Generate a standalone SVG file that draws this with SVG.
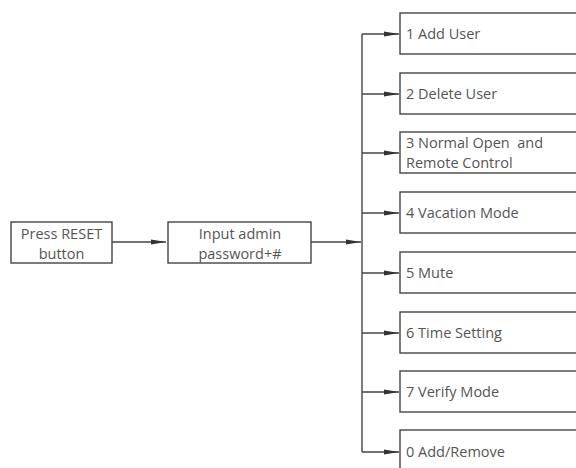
<svg xmlns="http://www.w3.org/2000/svg" width="576" height="468" viewBox="0 0 576 468">
<defs>
<marker id="ah" markerWidth="15" markerHeight="6" refX="15" refY="3" orient="auto" markerUnits="userSpaceOnUse">
<path d="M0,0.6 L15,3 L0,5.4 Z" fill="#333"/>
</marker>
<style>
.box{fill:#fff;stroke:#444;stroke-width:1.4}
.t{font-family:"Open Sans","DejaVu Sans",sans-serif;font-size:14.5px;fill:#555}
.c{text-anchor:middle}
.ln{stroke:#444;stroke-width:1.4;fill:none}
</style>
</defs>
<rect width="576" height="468" fill="#fff"/>
<g id="n-reset"><rect class="box" x="11" y="222" width="101" height="41"/><text class="t c" x="61.5" y="238.5">Press RESET</text><text class="t c" x="61.5" y="258.5">button</text></g>
<g id="n-admin"><rect class="box" x="168" y="222" width="143" height="41"/><text class="t c" x="240" y="238.5">Input admin</text><text class="t c" x="240" y="258.5">password+#</text></g>
<g id="n1"><rect class="box" x="400" y="13" width="190" height="41"/><text class="t" x="406" y="38.5">1 Add User</text></g>
<g id="n2"><rect class="box" x="400" y="73" width="190" height="41"/><text class="t" x="406" y="98.5">2 Delete User</text></g>
<g id="n3"><rect class="box" x="400" y="132" width="190" height="41"/><text class="t" x="406" y="147.5" xml:space="preserve">3 Normal Open  and</text><text class="t" x="406" y="167.5">Remote Control</text></g>
<g id="n4"><rect class="box" x="400" y="192" width="190" height="41"/><text class="t" x="406" y="217.5">4 Vacation Mode</text></g>
<g id="n5"><rect class="box" x="400" y="252" width="190" height="41"/><text class="t" x="406" y="277.5">5 Mute</text></g>
<g id="n6"><rect class="box" x="400" y="312" width="190" height="41"/><text class="t" x="406" y="337.5">6 Time Setting</text></g>
<g id="n7"><rect class="box" x="400" y="371" width="190" height="41"/><text class="t" x="406" y="396.5">7 Verify Mode</text></g>
<g id="n0"><rect class="box" x="400" y="430" width="190" height="41"/><text class="t" x="406" y="456.5">0 Add/Remove</text></g>
<g id="connectors">
<line class="ln" x1="112" y1="242" x2="166" y2="242" marker-end="url(#ah)"/>
<line class="ln" x1="311" y1="242" x2="361" y2="242" marker-end="url(#ah)"/>
<line class="ln" x1="362" y1="34" x2="362" y2="452"/>
<line class="ln" x1="362" y1="34" x2="399" y2="34" marker-end="url(#ah)"/>
<line class="ln" x1="362" y1="94" x2="399" y2="94" marker-end="url(#ah)"/>
<line class="ln" x1="362" y1="153" x2="399" y2="153" marker-end="url(#ah)"/>
<line class="ln" x1="362" y1="213" x2="399" y2="213" marker-end="url(#ah)"/>
<line class="ln" x1="362" y1="273" x2="399" y2="273" marker-end="url(#ah)"/>
<line class="ln" x1="362" y1="333" x2="399" y2="333" marker-end="url(#ah)"/>
<line class="ln" x1="362" y1="392" x2="399" y2="392" marker-end="url(#ah)"/>
<line class="ln" x1="362" y1="452" x2="399" y2="452" marker-end="url(#ah)"/>
</g>
</svg>
